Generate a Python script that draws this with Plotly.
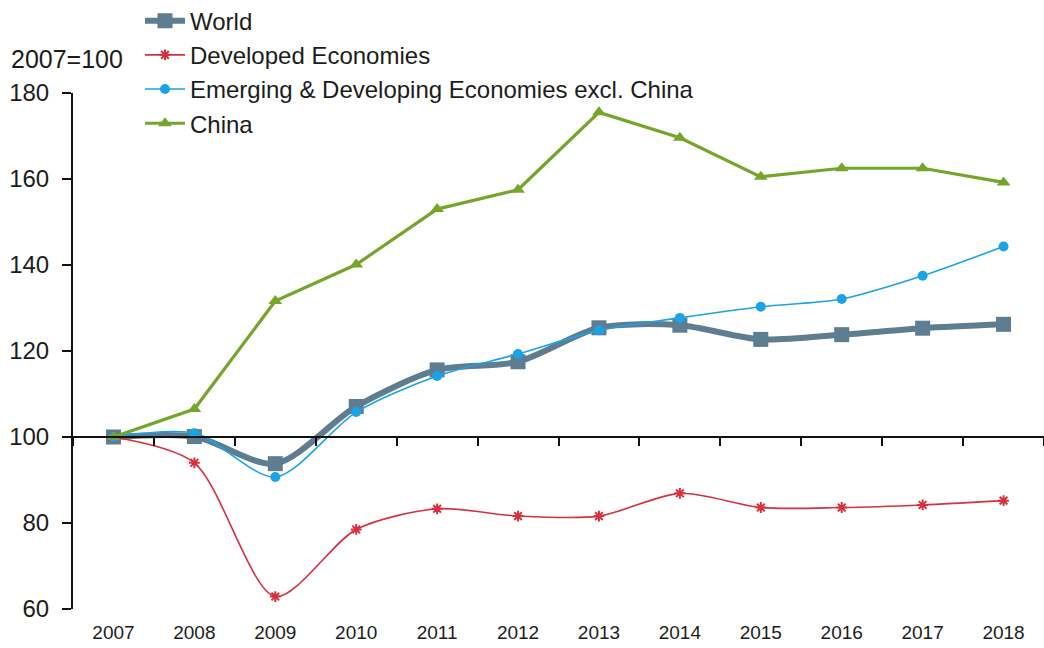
import plotly.graph_objects as go

years = ["2007", "2008", "2009", "2010", "2011", "2012",
         "2013", "2014", "2015", "2016", "2017", "2018"]

world = [100, 100.1, 93.8, 107.1, 115.6, 117.5, 125.4, 126.0, 122.7, 123.8, 125.3, 126.2]
developed = [100, 94.0, 62.9, 78.5, 83.3, 81.6, 81.6, 86.9, 83.6, 83.6, 84.2, 85.2]
emerging_ex_china = [100, 100.9, 90.7, 105.8, 114.2, 119.3, 124.8, 127.7, 130.3, 132.1, 137.5, 144.3]
china = [100, 106.5, 131.6, 140.1, 153.0, 157.5, 175.5, 169.6, 160.5, 162.5, 162.5, 159.2]

FONT = "Arial, Liberation Sans, sans-serif"
TEXT = "#1c1c1c"

fig = go.Figure()

fig.add_trace(go.Scatter(
    x=years, y=world, name="World", legendgroup="a",
    mode="lines+markers", line=dict(color="#5E7D90", width=6, shape="spline", smoothing=0.8),
    marker=dict(symbol="square", size=15, color="#5E7D90"),
))
fig.add_trace(go.Scatter(
    x=years, y=developed, name="Developed Economies", legendgroup="b",
    mode="lines+markers", line=dict(color="#D7303F", width=1.6, shape="spline", smoothing=0.8),
    marker=dict(symbol="asterisk", size=9, color="#D7303F", line=dict(color="#D7303F", width=2)),
))
fig.add_trace(go.Scatter(
    x=years, y=emerging_ex_china, name="Emerging & Developing Economies excl. China", legendgroup="c",
    mode="lines+markers", line=dict(color="#1AA3E6", width=1.6, shape="spline", smoothing=0.8),
    marker=dict(symbol="circle", size=10, color="#1AA3E6"),
))
fig.add_trace(go.Scatter(
    x=years, y=china, name="China", legendgroup="d", xaxis="x2",
    mode="lines+markers", line=dict(color="#76A52B", width=3.2),
    marker=dict(symbol="triangle-up", size=12, color="#76A52B"),
))

fig.update_layout(
    width=1044, height=648,
    margin=dict(l=73, r=0, t=93, b=39, autoexpand=False),
    paper_bgcolor="white", plot_bgcolor="white",
    font=dict(family=FONT, color=TEXT),
    showlegend=True,
    legend=dict(
        x=0.069, y=1.183, xanchor="left", yanchor="top",
        font=dict(size=24, family=FONT, color=TEXT),
        bgcolor="rgba(0,0,0,0)", tracegroupgap=0,
        itemwidth=40,
    ),
    xaxis=dict(
        type="category", categoryorder="array", categoryarray=years,
        range=[-0.5, 11.5],
        showgrid=False, zeroline=False, showline=False, ticks="",
        tickfont=dict(size=19, family=FONT, color=TEXT),
        ticklabelstandoff=10,
    ),
    # axis line crossing at 100 with tick marks between categories
    xaxis2=dict(
        type="category", matches="x", overlaying="x",
        anchor="free", position=(100 - 60) / (180 - 60),
        showgrid=False, zeroline=False, showline=True, linecolor="#111", linewidth=2,
        ticks="outside", tickson="boundaries", ticklen=8, tickwidth=2, tickcolor="#111",
        showticklabels=False,
    ),
    yaxis=dict(
        range=[60, 180], dtick=20, tick0=60,
        showgrid=False, zeroline=False, showline=True, linecolor="#111", linewidth=2,
        ticks="outside", ticklen=9, tickwidth=2, tickcolor="#111",
        tickfont=dict(size=24, family=FONT, color=TEXT),
        ticklabelstandoff=8,
    ),
    annotations=[dict(
        text="2007=100", xref="paper", yref="paper", x=-0.066, y=1.065,
        xanchor="left", yanchor="middle", showarrow=False,
        font=dict(size=25, family=FONT, color=TEXT),
    )],
)

fig.write_html("out.html")
